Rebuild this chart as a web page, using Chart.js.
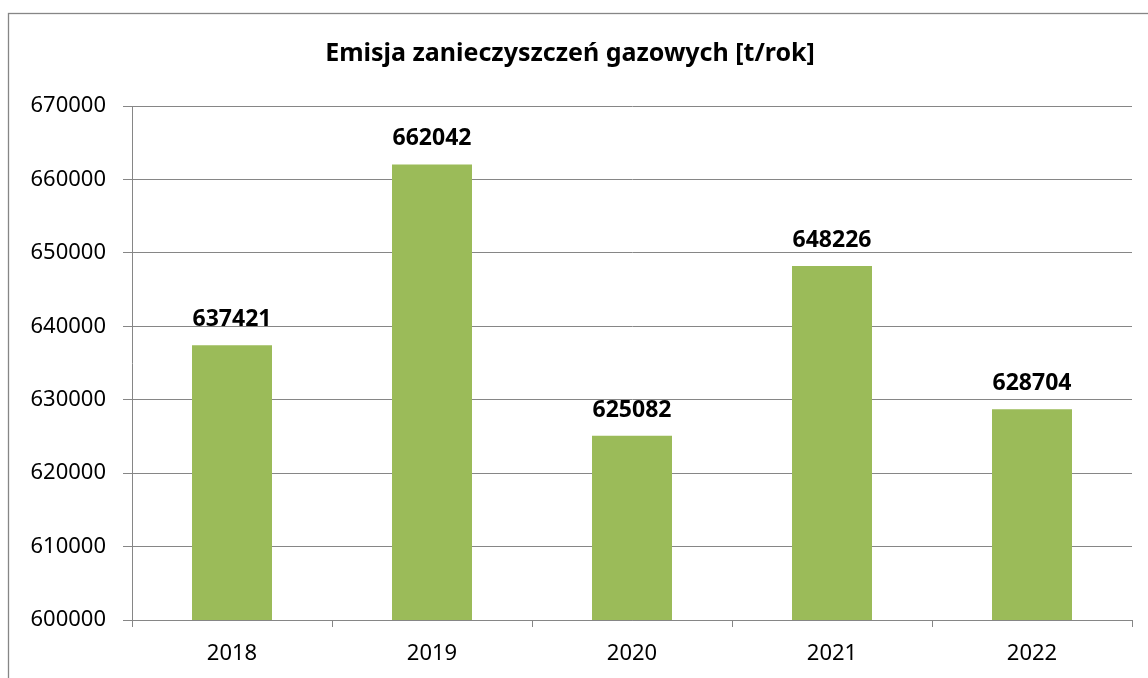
<!DOCTYPE html>
<html lang="pl">
<head>
<meta charset="UTF-8">
<title>Emisja zanieczyszczeń gazowych</title>
<style>
    body, html {
        margin: 0;
        padding: 0;
        background: #ffffff;
        overflow: hidden;
    }
    #wrap {
        width: 1148px;
        height: 678px;
    }
</style>
</head>
<body>
<div id="wrap">
    <canvas id="barChart" width="1148" height="678"></canvas>
</div>

<script src="https://cdn.jsdelivr.net/npm/chart.js"></script>
<script>
    // dane
    const years = ['2018', '2019', '2020', '2021', '2022'];
    const emissions = [637421, 662042, 625082, 648226, 628704];
    const yMin = 600000;
    const yMax = 670000;
    const yStep = 10000;
    const chartTitle = 'Emisja zanieczyszczeń gazowych [t/rok]';

    const gridGray = '#868686';
    const fontFamily = "'Noto Sans', 'DejaVu Sans', sans-serif";

    // ramka wokół wykresu (jak w Excelu)
    const framePlugin = {
        id: 'frame',
        beforeDraw(chart) {
            const ctx = chart.ctx;
            ctx.save();
            ctx.strokeStyle = gridGray;
            ctx.lineWidth = 1.3;
            ctx.strokeRect(8.5, 13.5, 2000, 2000);
            ctx.restore();
        }
    };

    // wartości nad słupkami
    const valueLabels = {
        id: 'valueLabels',
        afterDatasetsDraw(chart) {
            const ctx = chart.ctx;
            const meta = chart.getDatasetMeta(0);
            ctx.save();
            ctx.font = 'bold 23px ' + fontFamily;
            ctx.fillStyle = '#000000';
            ctx.textAlign = 'center';
            ctx.textBaseline = 'alphabetic';
            meta.data.forEach((bar, i) => {
                ctx.fillText(String(emissions[i]), bar.x, bar.y - 19);
            });
            ctx.restore();
        }
    };

    new Chart(document.getElementById('barChart'), {
        type: 'bar',
        data: {
            labels: years,
            datasets: [{
                data: emissions,
                backgroundColor: '#9bbb59',
                borderWidth: 0,
                barPercentage: 0.4,
                categoryPercentage: 1.0
            }]
        },
        options: {
            responsive: false,
            animation: false,
            layout: {
                padding: { left: 8, right: 16, top: 0, bottom: 0 }
            },
            plugins: {
                legend: { display: false },
                tooltip: { enabled: false },
                title: {
                    display: true,
                    text: chartTitle,
                    color: '#000000',
                    font: { family: fontFamily, size: 25, weight: 'bold' },
                    padding: { top: 39, bottom: 37 }
                }
            },
            scales: {
                x: {
                    grid: {
                        drawOnChartArea: false,
                        drawTicks: true,
                        tickLength: 7,
                        color: gridGray
                    },
                    border: { color: gridGray, width: 1 },
                    ticks: {
                        color: '#000000',
                        padding: 14,
                        font: { family: fontFamily, size: 22 }
                    },
                    afterFit(scale) { scale.height = 58; }
                },
                y: {
                    min: yMin,
                    max: yMax,
                    grid: {
                        color: gridGray,
                        tickLength: 9
                    },
                    border: { color: gridGray, width: 1 },
                    ticks: {
                        stepSize: yStep,
                        color: '#000000',
                        padding: 17,
                        font: { family: fontFamily, size: 22 },
                        callback: v => String(v)
                    },
                    afterFit(scale) { scale.width = 124; }
                }
            }
        },
        plugins: [framePlugin, valueLabels]
    });
</script>
</body>
</html>
